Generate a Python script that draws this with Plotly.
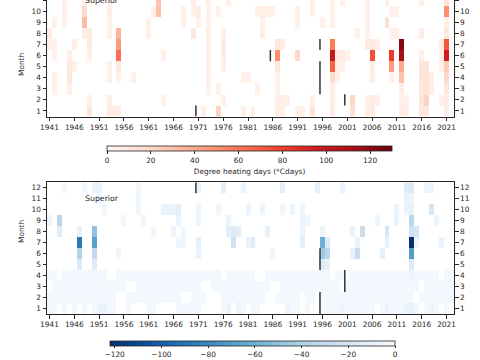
import plotly.graph_objects as go

# ---------------- data ----------------
years = list(range(1941, 2023))
months = list(range(1, 13))
x_ticks = [1941, 1946, 1951, 1956, 1961, 1966, 1971, 1976, 1981, 1986,
           1991, 1996, 2001, 2006, 2011, 2016, 2021]
month_ticks = [1, 2, 3, 4, 5, 6, 7, 8, 9, 10, 11, 12]
heat_ticks = [0, 20, 40, 60, 80, 100, 120]
cold_ticks = [-120, -100, -80, -60, -40, -20, 0]
lake_name = "Superior"

# (year, month, degree heating days)
heat_cells = [
    (1941, 8, 6), (1941, 7, 4),
    (1942, 9, 4), (1942, 7, 5), (1942, 6, 4), (1942, 4, 3), (1942, 3, 3),
    (1944, 11, 4), (1944, 10, 5), (1944, 9, 4),
    (1945, 6, 5), (1945, 5, 9), (1945, 4, 10), (1945, 3, 5),
    (1946, 7, 5), (1946, 5, 4),
    (1948, 11, 5), (1948, 10, 18), (1948, 9, 32), (1948, 8, 6),
    (1949, 8, 8), (1949, 7, 8), (1949, 6, 5), (1949, 2, 5), (1949, 1, 12),
    (1953, 11, 4), (1953, 10, 6), (1953, 9, 4), (1953, 8, 5), (1953, 5, 4),
    (1953, 4, 3), (1953, 2, 5), (1953, 1, 8),
    (1954, 1, 6),
    (1955, 8, 35), (1955, 7, 45), (1955, 6, 62), (1955, 5, 10), (1955, 4, 4), (1955, 1, 5),
    (1958, 4, 4),
    (1961, 9, 4), (1961, 8, 4),
    (1962, 10, 5),
    (1963, 11, 28), (1963, 10, 30),
    (1964, 6, 4), (1964, 2, 4),
    (1968, 10, 5), (1968, 9, 4),
    (1970, 11, 5), (1970, 10, 4), (1970, 8, 9),
    (1971, 10, 8), (1971, 9, 5),
    (1972, 1, 5),
    (1973, 11, 5), (1973, 10, 4), (1973, 9, 4), (1973, 8, 5), (1973, 7, 4),
    (1973, 6, 4), (1973, 5, 4), (1973, 4, 4), (1973, 3, 4),
    (1975, 10, 4), (1975, 3, 5), (1975, 1, 22),
    (1976, 8, 4), (1976, 7, 6), (1976, 6, 6), (1976, 5, 4), (1976, 2, 5),
    (1977, 11, 4),
    (1980, 4, 4), (1981, 4, 4), (1980, 1, 5), (1982, 1, 5),
    (1983, 10, 5), (1983, 3, 4), (1984, 10, 5), (1984, 9, 4), (1984, 8, 6),
    (1985, 10, 5), (1986, 10, 4),
    (1987, 7, 10), (1987, 6, 50), (1987, 5, 10), (1987, 4, 4), (1987, 3, 4),
    (1987, 2, 5), (1987, 1, 5),
    (1988, 7, 6), (1988, 2, 5), (1988, 1, 5), (1989, 2, 4),
    (1991, 10, 4), (1991, 9, 4), (1991, 6, 20), (1991, 1, 4),
    (1992, 1, 4),
    (1994, 11, 4), (1994, 10, 4), (1994, 2, 4), (1994, 1, 14),
    (1996, 9, 4),
    (1998, 11, 4), (1998, 10, 4), (1998, 9, 4), (1998, 7, 58), (1998, 6, 100),
    (1998, 5, 68), (1998, 4, 18), (1998, 3, 5), (1998, 2, 5), (1998, 1, 6),
    (1999, 6, 6), (1999, 5, 4), (1999, 4, 4), (2000, 6, 6), (2000, 5, 4),
    (2000, 11, 3), (2001, 6, 4),
    (2002, 2, 20), (2002, 1, 16),
    (2003, 8, 4),
    (2005, 11, 3), (2005, 10, 4), (2005, 9, 4), (2005, 8, 4), (2005, 7, 8),
    (2005, 2, 5), (2005, 1, 5),
    (2006, 7, 10), (2006, 6, 75), (2006, 5, 6), (2006, 4, 5), (2006, 2, 8), (2006, 1, 7),
    (2007, 7, 5), (2007, 2, 5),
    (2009, 11, 4), (2009, 9, 15),
    (2010, 10, 4), (2010, 8, 4), (2010, 6, 82), (2010, 5, 45), (2010, 4, 5),
    (2011, 10, 4), (2011, 8, 5),
    (2012, 7, 122), (2012, 6, 112), (2012, 5, 40), (2012, 4, 30), (2012, 3, 6),
    (2012, 2, 5), (2012, 1, 6),
    (2013, 2, 4), (2013, 1, 5),
    (2016, 11, 4), (2016, 8, 6), (2016, 6, 5), (2016, 5, 12), (2016, 4, 12),
    (2016, 3, 10), (2016, 2, 12), (2016, 1, 10),
    (2017, 5, 12), (2017, 4, 14), (2017, 3, 12), (2017, 2, 22), (2017, 1, 10),
    (2018, 4, 5), (2018, 3, 5),
    (2020, 7, 6), (2020, 6, 5), (2020, 5, 5), (2020, 2, 5),
    (2021, 11, 14), (2021, 10, 50), (2021, 9, 5), (2021, 8, 10), (2021, 7, 72),
    (2021, 6, 95), (2021, 5, 25), (2021, 4, 20), (2021, 3, 10), (2021, 2, 6), (2021, 1, 6),
]

# faint (near-zero) cold cells in winter/spring months
cold_trace_value = -3
cold_trace_m1 = [1941, 1942, 1944, 1946, 1948, 1950, 1953, 1954, 1957, 1961, 1962,
                 1967, 1968, 1969, 1970, 1971, 1976, 1980, 1982, 1983, 1990, 1991,
                 1993, 1996, 1997, 1998, 1999, 2001, 2002, 2003, 2004, 2005, 2006,
                 2008, 2010, 2011, 2012, 2015, 2017, 2019, 2021]
cold_trace_m2 = [1941, 1942, 1943, 1944, 1945, 1946, 1947, 1948, 1949, 1950, 1951,
                 1952, 1953, 1954, 1957, 1958, 1959, 1960, 1961, 1962, 1963, 1964,
                 1965, 1966, 1967, 1970, 1971, 1972, 1976, 1977, 1978, 1979, 1980,
                 1981, 1982, 1983, 1984, 1987, 1988, 1989, 1990, 1991, 1993, 1994,
                 1996, 1997, 1998, 1999, 2000, 2001, 2002, 2003, 2004, 2005, 2006,
                 2007, 2008, 2009, 2010, 2011, 2012, 2013, 2014, 2016, 2017, 2018,
                 2019, 2020, 2021, 2022]
cold_trace_m3 = [1942, 1943, 1944, 1945, 1946, 1947, 1948, 1949, 1950, 1951, 1952,
                 1953, 1954, 1955, 1956, 1959, 1960, 1961, 1962, 1963, 1964, 1965,
                 1966, 1967, 1968, 1969, 1970, 1971, 1974, 1975, 1976, 1977, 1978,
                 1979, 1980, 1981, 1982, 1983, 1984, 1985, 1988, 1989, 1990, 1991,
                 1992, 1993, 1994, 1995, 1996, 1997, 1998, 1999, 2001, 2002, 2003,
                 2004, 2005, 2006, 2007, 2008, 2009, 2010, 2011, 2012, 2013, 2014,
                 2015, 2017, 2018, 2019, 2020, 2021, 2022]
cold_trace_m4 = [1941, 1942, 1944, 1945, 1946, 1947, 1948, 1949, 1950, 1951, 1952,
                 1955, 1956, 1957, 1958, 1959, 1960, 1961, 1962, 1963, 1964, 1965,
                 1966, 1967, 1968, 1969, 1970, 1971, 1972, 1973, 1974, 1975, 1977,
                 1978, 1979, 1980, 1981, 1982, 1985, 1986, 1987, 1988, 1989, 1990,
                 1991, 1992, 1993, 1994, 1995, 1996, 1997, 1999, 2000, 2002, 2003,
                 2004, 2005, 2006, 2007, 2008, 2009, 2010, 2011, 2012, 2013, 2015,
                 2016, 2017, 2018, 2019, 2021, 2022]

# (year, month, degree cooling days)
cold_cells = [
    (1941, 9, -6), (1943, 9, -35), (1943, 8, -14), (1944, 12, -4),
    (1947, 8, -10), (1947, 7, -88), (1947, 6, -38), (1947, 5, -15),
    (1948, 12, -4),
    (1950, 8, -50), (1950, 7, -68), (1950, 6, -32), (1950, 5, -14), (1950, 12, -8),
    (1951, 12, -8), (1951, 11, -5), (1951, 1, -8), (1952, 1, -8), (1952, 10, -5),
    (1955, 6, -5), (1956, 9, -4), (1959, 12, -4), (1959, 11, -6), (1959, 10, -5),
    (1960, 9, -5), (1962, 8, -4), (1964, 10, -8), (1965, 10, -8),
    (1966, 10, -8), (1966, 8, -6), (1967, 10, -12), (1967, 9, -6), (1967, 7, -5),
    (1968, 8, -5), (1968, 7, -5),
    (1971, 12, -10), (1971, 10, -6), (1971, 9, -6), (1971, 7, -10), (1971, 6, -8),
    (1975, 10, -5), (1976, 12, -12),
    (1977, 8, -12), (1977, 9, -6), (1978, 8, -15), (1978, 7, -25), (1979, 8, -12),
    (1977, 1, -8), (1979, 1, -6),
    (1980, 12, -6), (1981, 10, -8), (1981, 7, -8), (1982, 7, -14),
    (1984, 10, -6), (1985, 8, -10), (1986, 6, -5),
    (1988, 12, -12), (1988, 10, -5), (1989, 1, -6), (1990, 10, -6),
    (1992, 10, -6), (1992, 9, -8), (1992, 8, -6), (1992, 7, -12), (1993, 9, -5),
    (1995, 12, -10),
    (1996, 8, -6), (1996, 7, -60), (1996, 6, -45), (1996, 5, -14),
    (1997, 7, -15), (1997, 6, -35), (1997, 5, -10),
    (2000, 12, -8), (2000, 1, -6), (2002, 8, -8), (2002, 6, -8),
    (2003, 7, -8), (2003, 6, -30), (2004, 8, -28),
    (2007, 9, -6), (2008, 6, -10), (2009, 8, -20), (2009, 7, -10), (2009, 1, -8),
    (2011, 9, -8), (2011, 10, -6),
    (2013, 12, -15), (2013, 11, -8), (2013, 10, -6), (2013, 1, -8),
    (2014, 12, -15), (2014, 11, -6), (2014, 10, -10), (2014, 9, -35), (2014, 8, -25),
    (2014, 7, -122), (2014, 6, -70), (2014, 5, -15), (2014, 4, -6), (2014, 1, -10),
    (2015, 8, -20), (2015, 7, -6),
    (2017, 12, -6), (2018, 12, -6), (2018, 10, -20), (2018, 1, -6),
    (2019, 9, -6), (2020, 7, -8),
]

# record gaps: (year boundary, month from, month to)
gap_lines_top = [(1970.5, 0.5, 1.5), (1985.5, 5.5, 6.5), (1995.5, 6.5, 7.5),
                 (1995.5, 2.5, 5.5), (2000.5, 1.5, 2.5)]
gap_lines_bottom = [(1970.5, 11.5, 12.5), (1995.5, 4.5, 6.5),
                    (1995.5, 0.5, 2.5), (2000.5, 2.5, 4.5)]

# ---------------- build grids ----------------
def grid(cells, trace_rows=None, trace_val=None):
    z = [[None] * len(years) for _ in months]
    if trace_rows:
        for m, yrs in trace_rows.items():
            for y in yrs:
                z[m - 1][years.index(y)] = trace_val
    for y, m, v in cells:
        z[m - 1][years.index(y)] = v
    return z

heat_z = grid(heat_cells)
cold_z = grid(cold_cells,
              {1: cold_trace_m1, 2: cold_trace_m2, 3: cold_trace_m3, 4: cold_trace_m4},
              cold_trace_value)

reds = [[0.0, "#fff5f0"], [0.125, "#fee0d2"], [0.25, "#fcbba1"], [0.375, "#fc9272"],
        [0.5, "#fb6a4a"], [0.625, "#ef3b2c"], [0.75, "#cb181d"], [0.875, "#a50f15"],
        [1.0, "#67000d"]]
blues_r = [[0.0, "#08306b"], [0.125, "#08519c"], [0.25, "#2171b5"], [0.375, "#4292c6"],
           [0.5, "#6baed6"], [0.625, "#9ecae1"], [0.75, "#c6dbef"], [0.875, "#deebf7"],
           [1.0, "#f7fbff"]]

W, H = 480, 360
FONT = "DejaVu Sans"
FS = 7.4
INK = "#262626"
x_dom = [47 / W, 454 / W]
top_dom = [1 - 116.5 / H, 1.0]
bot_dom = [1 - 314 / H, 1 - 182.3 / H]

fig = go.Figure()
fig.add_trace(go.Heatmap(
    x=years, y=months, z=heat_z, xaxis="x", yaxis="y",
    zmin=0, zmax=130, colorscale=reds, hoverinfo="skip",
    colorbar=dict(orientation="h", x=249.5 / W, xanchor="center",
                  y=1 - 146 / H, yanchor="top", len=285 / W, lenmode="fraction",
                  thickness=4.5, thicknessmode="pixels", xpad=0, ypad=0,
                  outlinewidth=0.8, outlinecolor=INK, ticks="outside", ticklen=3,
                  tickcolor=INK, tickvals=heat_ticks,
                  tickfont=dict(size=FS, color=INK, family=FONT),
                  title=dict(text="Degree heating days (*Cdays)", side="bottom",
                             font=dict(size=FS, color=INK, family=FONT))),
))
fig.add_trace(go.Heatmap(
    x=years, y=months, z=cold_z, xaxis="x2", yaxis="y2",
    zmin=-122, zmax=0, colorscale=blues_r, hoverinfo="skip",
    colorbar=dict(orientation="h", x=252.5 / W, xanchor="center",
                  y=1 - 341.2 / H, yanchor="top", len=285 / W, lenmode="fraction",
                  thickness=4.5, thicknessmode="pixels", xpad=0, ypad=0,
                  outlinewidth=0.8, outlinecolor=INK, ticks="outside", ticklen=2.5,
                  tickcolor=INK, tickvals=cold_ticks,
                  tickfont=dict(size=FS, color=INK, family=FONT)),
))
# carriers for the right-hand month axes
fig.add_trace(go.Scatter(x=[None], y=[None], xaxis="x", yaxis="y3",
                         showlegend=False, hoverinfo="skip"))
fig.add_trace(go.Scatter(x=[None], y=[None], xaxis="x2", yaxis="y4",
                         showlegend=False, hoverinfo="skip"))

common_x = dict(domain=x_dom, range=[1940.5, 2022.5], tickvals=x_ticks,
                ticks="outside", ticklen=3.5, tickcolor=INK, showline=True,
                linecolor=INK, linewidth=1, showgrid=False, zeroline=False,
                automargin=False,
                tickfont=dict(size=FS, color=INK, family=FONT))
common_y = dict(tickvals=month_ticks, ticks="outside", ticklen=3.5, tickcolor=INK,
                showline=True, linecolor=INK, linewidth=1, showgrid=False,
                zeroline=False, automargin=False,
                tickfont=dict(size=FS, color=INK, family=FONT))

top_range = [0.5, 11.03]

fig.update_layout(
    width=W, height=H, margin=dict(l=0, r=0, t=0, b=0, autoexpand=False),
    paper_bgcolor="white", plot_bgcolor="white", showlegend=False,
    font=dict(family=FONT, size=FS, color=INK),
    xaxis=dict(**common_x, anchor="y"),
    yaxis=dict(**common_y, domain=top_dom, range=top_range, anchor="x"),
    yaxis3=dict(**common_y, range=top_range, anchor="x", overlaying="y", side="right"),
    xaxis2=dict(**common_x, anchor="y2", mirror=True),
    yaxis2=dict(**common_y, domain=bot_dom, range=[0.5, 12.5], anchor="x2"),
    yaxis4=dict(**common_y, range=[0.5, 12.5], anchor="x2", overlaying="y2", side="right"),
)

shapes = []
for xv, y0, y1 in gap_lines_top:
    shapes.append(dict(type="line", xref="x", yref="y", x0=xv, x1=xv, y0=y0, y1=y1,
                       line=dict(color="#333333", width=1.5)))
for xv, y0, y1 in gap_lines_bottom:
    shapes.append(dict(type="line", xref="x2", yref="y2", x0=xv, x1=xv, y0=y0, y1=y1,
                       line=dict(color="#333333", width=1.5)))
fig.update_layout(shapes=shapes)

annotations = [
    dict(text=lake_name, xref="x", yref="y", x=1947.85, y=11, xanchor="left",
         yanchor="middle", showarrow=False, font=dict(size=7.8, color=INK, family=FONT)),
    dict(text=lake_name, xref="x2", yref="y2", x=1947.85, y=11, xanchor="left",
         yanchor="middle", showarrow=False, font=dict(size=7.8, color=INK, family=FONT)),
    dict(text="Month", xref="paper", yref="paper", x=15 / W, y=1 - 51 / H,
         textangle=-90, showarrow=False, font=dict(size=FS, color=INK, family=FONT)),
    dict(text="Month", xref="paper", yref="paper", x=15 / W, y=1 - 245 / H,
         textangle=-90, showarrow=False, font=dict(size=FS, color=INK, family=FONT)),
]
fig.update_layout(annotations=annotations)

fig.write_html("out.html",
               config={"displayModeBar": False, "staticPlot": True},
               post_script="document.body.style.margin='0';document.body.style.padding='0';")
